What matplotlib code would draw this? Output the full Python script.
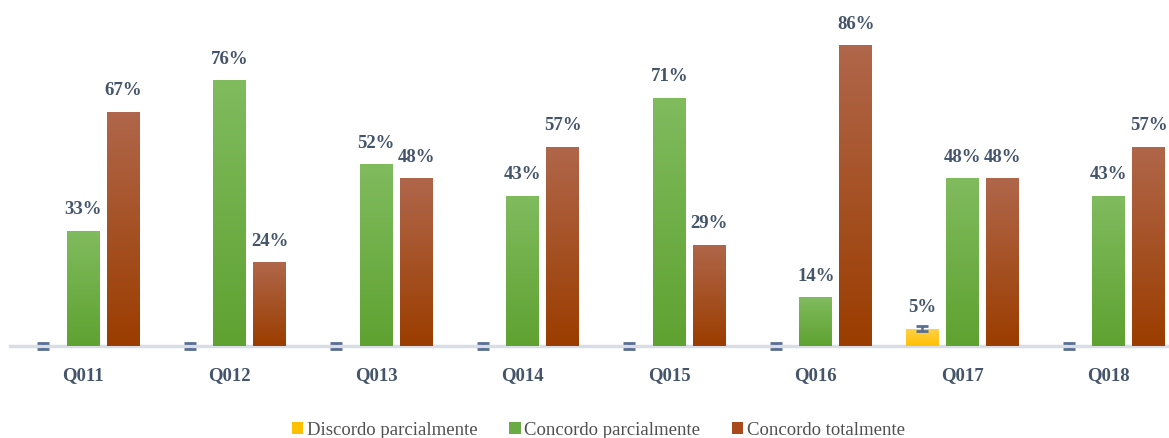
import matplotlib
matplotlib.use("Agg")
import matplotlib.pyplot as plt
import numpy as np
from matplotlib.colors import LinearSegmentedColormap

questions = ["Q011", "Q012", "Q013", "Q014", "Q015", "Q016", "Q017", "Q018"]
discordo_parc = [0, 0, 0, 0, 0, 0, 5, 0]
concordo_parc = [33, 76, 52, 43, 71, 14, 48, 43]
concordo_total = [67, 24, 48, 57, 29, 86, 48, 57]
series_names = ["Discordo parcialmente", "Concordo parcialmente", "Concordo totalmente"]

plt.rcParams['font.family'] = ['Liberation Serif', 'DejaVu Serif']

text_col = '#44546a'
# (top colour, bottom colour) for gradient fill
grads = [('#ffd24d', '#ffc000'), ('#80bb5e', '#5fa231'), ('#b0664a', '#9b3d00')]
solid = ['#ffc000', '#6aab44', '#a84a1c']

fig = plt.figure(figsize=(11.69, 4.38), dpi=100)
ax = fig.add_axes([10 / 1169, 92 / 438, 1159 / 1169, 346 / 438])

ind = np.arange(len(questions))
width = 0.225
offset = 0.273
all_data = [discordo_parc, concordo_parc, concordo_total]

handles = []
for k, vals in enumerate(all_data):
    xs = ind + (k - 1) * offset
    bars = ax.bar(xs, vals, width, color=solid[k], edgecolor='none', zorder=3,
                  label=series_names[k])
    handles.append(bars)
    cmap = LinearSegmentedColormap.from_list('g%d' % k, [grads[k][1], grads[k][0]])
    grad = np.linspace(0, 1, 100).reshape(-1, 1)
    for b, v in zip(bars, vals):
        if v <= 0:
            continue
        x0 = b.get_x()
        im = ax.imshow(grad, cmap=cmap, origin='lower', aspect='auto',
                       extent=(x0, x0 + width, 0, v), zorder=3)
        im.set_clip_path(b)
        ax.annotate("%d%%" % v, (x0 + width / 2, v), xytext=(0, 9),
                    textcoords='offset points', ha='center', va='bottom',
                    fontsize=13.5, fontweight='bold', color=text_col)

# small error bars on the first series
d = np.array(discordo_parc)
xd = ind - offset
for mask, stem_z in [(d == 0, 1), (d > 0, 7)]:
    eb = ax.errorbar(xd[mask], d[mask], yerr=0.85, fmt='none', ecolor='#5b6f95',
                     elinewidth=1.8, capsize=4, capthick=2)
    for c in eb.lines[1]:
        c.set_clip_on(False)
        c.set_zorder(6)
    for c in eb.lines[2]:
        c.set_clip_on(False)
        c.set_zorder(stem_z)

ax.set_xlim(-0.5, 7.41)
ax.set_ylim(0, 98.9)
ax.set_xticks(ind)
ax.set_xticklabels(questions, fontsize=13.5, fontweight='bold', color=text_col)
ax.tick_params(axis='x', length=0, pad=15)
ax.set_yticks([])
for s in ['top', 'right', 'left']:
    ax.spines[s].set_visible(False)
ax.spines['bottom'].set_color('#d9dde6')
ax.spines['bottom'].set_linewidth(2.5)
ax.spines['bottom'].set_zorder(2)

fig.legend(handles=handles, labels=series_names, loc='lower center',
           bbox_to_anchor=(0.512, -0.04), ncol=3, frameon=False, fontsize=13.5,
           handlelength=0.6, handleheight=0.6, handletextpad=0.2, columnspacing=1.7,
           labelcolor='#505050')

fig.savefig("out.png", dpi=100)
